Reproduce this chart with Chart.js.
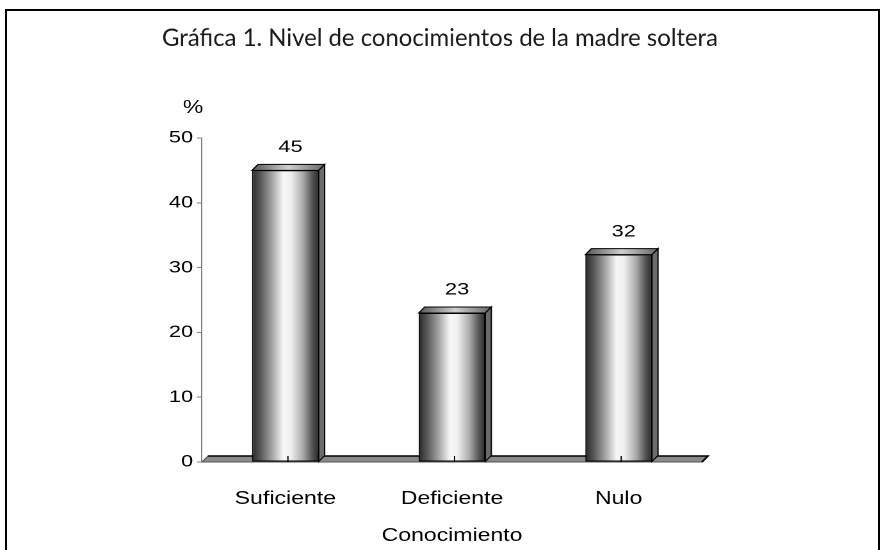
<!DOCTYPE html>
<html>
<head>
<meta charset="utf-8">
<script src="https://cdn.jsdelivr.net/npm/chart.js@4"></script>
<style>
  html, body { margin: 0; padding: 0; background: #fff; overflow: hidden; }
  body { width: 881px; height: 550px; position: relative; }
  #marco { position: absolute; left: 5px; top: 9px; width: 875px; height: 600px;
           border: 2px solid #000; box-sizing: border-box; }
  #estirar { position: absolute; left: 0; top: 0; transform: scaleX(1.2805); transform-origin: 0 0; }
</style>
</head>
<body>
<div id="marco"></div>
<div id="estirar"><canvas id="grafica" width="688" height="550"></canvas></div>
<script>
// datos de la gráfica
const categorias = ["Suficiente", "Deficiente", "Nulo"];
const porcentajes = [45, 23, 32];
const marcasY = [0, 10, 20, 30, 40, 50];
const titulo = "Gráfica 1. Nivel de conocimientos de la madre soltera";

const S = 881 / 688;        // la imagen original está estirada a lo ancho
const DX = 6 / S, DY = 6;   // profundidad del efecto 3D
const fuente = "'Liberation Sans', Arial, sans-serif";

// degradado tipo cilindro para la cara frontal de cada barra
function degradado(c) {
  const chart = c.chart;
  const area = chart.chartArea;
  if (!area) return '#999';
  const x = chart.scales.x.getPixelForValue(c.dataIndex);
  const w = area.width / categorias.length * 0.4;
  const g = chart.ctx.createLinearGradient(x - w / 2, 0, x + w / 2, 0);
  g.addColorStop(0, '#2a2a2a');
  g.addColorStop(0.12, '#555555');
  g.addColorStop(0.3, '#a4a4a4');
  g.addColorStop(0.47, '#f7f7f7');
  g.addColorStop(0.58, '#f0f0f0');
  g.addColorStop(0.76, '#acacac');
  g.addColorStop(0.9, '#575757');
  g.addColorStop(1, '#282828');
  return g;
}

const relieve = {
  id: 'relieve',
  beforeDatasetsDraw(chart) {
    const { ctx, chartArea: a } = chart;
    ctx.save();
    ctx.beginPath();
    ctx.moveTo(a.left, a.bottom);
    ctx.lineTo(a.right, a.bottom);
    ctx.lineTo(a.right + DX, a.bottom - DY);
    ctx.lineTo(a.left + DX, a.bottom - DY);
    ctx.closePath();
    ctx.fillStyle = '#8a8a8a';
    ctx.fill();
    ctx.lineWidth = 1;
    ctx.strokeStyle = '#555';
    ctx.stroke();
    ctx.beginPath();
    ctx.moveTo(a.left + DX, a.bottom - DY);
    ctx.lineTo(a.right + DX, a.bottom - DY);
    ctx.lineTo(a.right, a.bottom);
    ctx.lineWidth = 1.5;
    ctx.strokeStyle = '#000';
    ctx.stroke();
    ctx.restore();
  },
  afterDatasetsDraw(chart) {
    const { ctx, chartArea: a } = chart;
    const meta = chart.getDatasetMeta(0);
    ctx.save();
    meta.data.forEach((bar, i) => {
      const x0 = bar.x - bar.width / 2, x1 = bar.x + bar.width / 2;
      const top = bar.y, base = bar.base;
      // cara superior
      const gt = ctx.createLinearGradient(x0, 0, x1 + DX, 0);
      gt.addColorStop(0, '#555');
      gt.addColorStop(0.5, '#cfcfcf');
      gt.addColorStop(1, '#666');
      ctx.beginPath();
      ctx.moveTo(x0, top);
      ctx.lineTo(x1, top);
      ctx.lineTo(x1 + DX, top - DY);
      ctx.lineTo(x0 + DX, top - DY);
      ctx.closePath();
      ctx.fillStyle = gt;
      ctx.fill();
      ctx.lineWidth = 1;
      ctx.strokeStyle = '#000';
      ctx.stroke();
      // cara lateral
      ctx.beginPath();
      ctx.moveTo(x1, top);
      ctx.lineTo(x1 + DX, top - DY);
      ctx.lineTo(x1 + DX, base - DY);
      ctx.lineTo(x1, base);
      ctx.closePath();
      ctx.fillStyle = '#6c6c6c';
      ctx.fill();
      ctx.stroke();
      // marca de categoría sobre el piso
      ctx.beginPath();
      ctx.moveTo(bar.x + 2, a.bottom - 6);
      ctx.lineTo(bar.x + 2, a.bottom);
      ctx.stroke();
      // etiqueta de valor
      ctx.fillStyle = '#000';
      ctx.font = '17px ' + fuente;
      ctx.textAlign = 'center';
      ctx.textBaseline = 'middle';
      ctx.fillText(String(porcentajes[i]), bar.x + 4, top - 23);
    });
    ctx.restore();
  },
  afterDraw(chart) {
    const ctx = chart.ctx;
    ctx.save();
    ctx.fillStyle = '#000';
    ctx.font = '18px ' + fuente;
    ctx.textAlign = 'center';
    ctx.textBaseline = 'middle';
    ctx.fillText('%', 193 / S, 108);
    // título sin estirar, con el ancho del original
    ctx.font = '24px Lato, sans-serif';
    const ancho = ctx.measureText(titulo).width;
    const k = 556 / ancho;
    ctx.translate(440 / S, 46);
    ctx.scale(k / S, 1);
    ctx.textBaseline = 'alphabetic';
    ctx.fillStyle = '#1a1a1a';
    ctx.fillText(titulo, 0, 0);
    ctx.restore();
  }
};

new Chart(document.getElementById('grafica'), {
  type: 'bar',
  data: {
    labels: categorias,
    datasets: [{
      data: porcentajes,
      backgroundColor: degradado,
      borderColor: '#000',
      borderWidth: 1,
      borderSkipped: false,
      categoryPercentage: 1,
      barPercentage: 0.4
    }]
  },
  options: {
    responsive: false,
    animation: false,
    devicePixelRatio: 2,
    layout: { padding: { top: 138, right: 688 - 702 / S, left: 0, bottom: 0 } },
    plugins: { legend: { display: false }, tooltip: { enabled: false }, title: { display: false } },
    scales: {
      x: {
        afterFit: s => { s.height = 88; },
        grid: { display: false },
        border: { display: false },
        ticks: { color: '#000', font: { family: fuente, size: 18 }, padding: 18, maxRotation: 0 },
        title: { display: true, text: 'Conocimiento', color: '#000', font: { family: fuente, size: 18 }, padding: { top: 0, bottom: 3 } }
      },
      y: {
        min: 0, max: 50,
        afterFit: s => { s.width = 202 / S; },
        afterBuildTicks: s => { s.ticks = marcasY.map(v => ({ value: v })); },
        border: { color: '#808080', width: 1 },
        grid: { drawOnChartArea: false, tickLength: 5 / S, color: '#808080' },
        ticks: { color: '#000', font: { family: fuente, size: 17 }, padding: 3 }
      }
    }
  },
  plugins: [relieve]
});
</script>
</body>
</html>
